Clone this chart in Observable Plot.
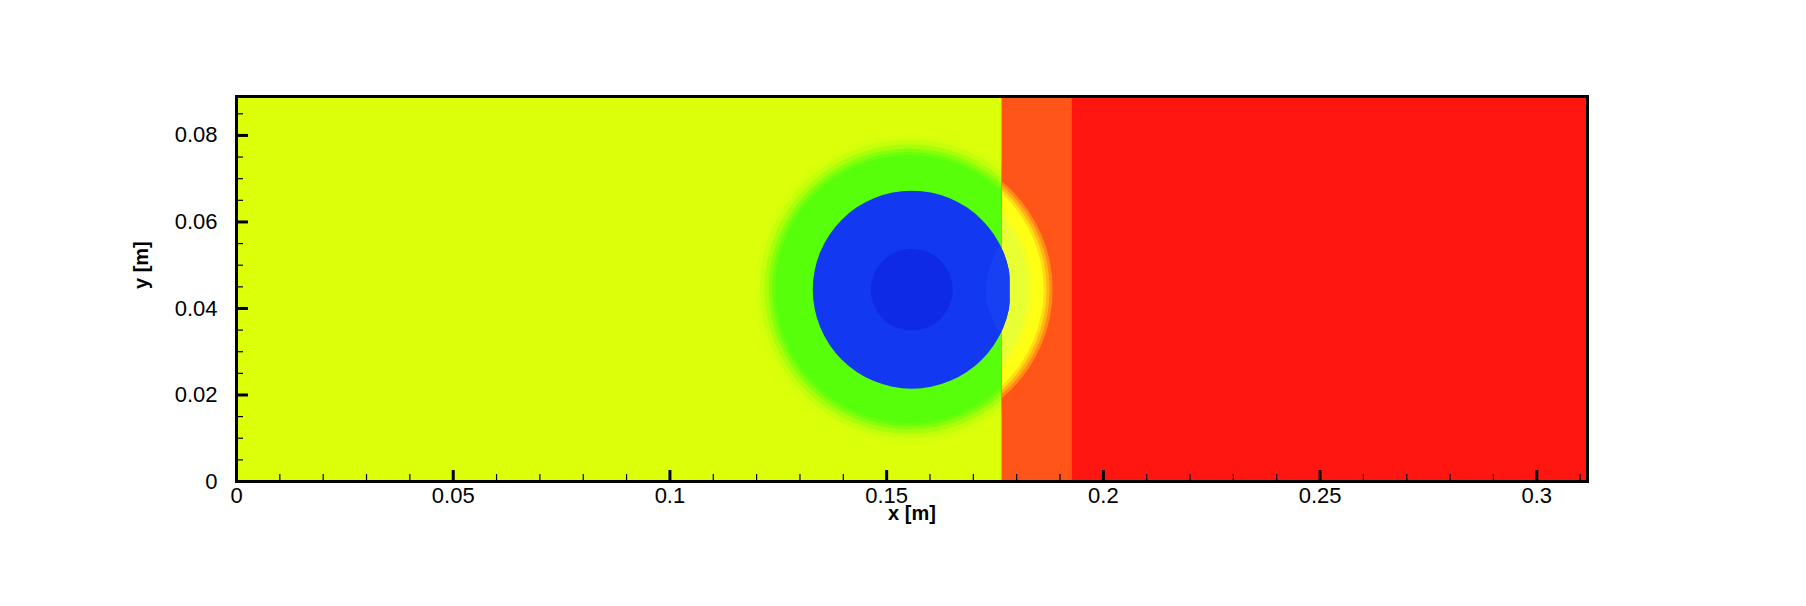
<!DOCTYPE html>
<html><head><meta charset="utf-8">
<script src="https://cdn.jsdelivr.net/npm/d3@7"></script>
<script src="https://cdn.jsdelivr.net/npm/@observablehq/plot@0.6"></script>
<style>
body{margin:0;background:#fff;}
svg{display:block;}
</style></head><body><div id="chart"></div>
<script>
// ---- axes ----
const xDomain = [0, 0.3117];
const yDomain = [0, 0.089];
const xTickMajor = [0, 0.05, 0.1, 0.15, 0.2, 0.25, 0.3];
const xTickLabels = ["0", "0.05", "0.1", "0.15", "0.2", "0.25", "0.3"];
const xTickMinor = [0.01, 0.02, 0.03, 0.04, 0.06, 0.07, 0.08, 0.09, 0.11, 0.12, 0.13, 0.14,
  0.16, 0.17, 0.18, 0.19, 0.21, 0.22, 0.23, 0.24, 0.26, 0.27, 0.28, 0.29, 0.31];
const yTickMajor = [0, 0.02, 0.04, 0.06, 0.08];
const yTickLabels = ["0", "0.02", "0.04", "0.06", "0.08"];
const yTickMinor = [0.005, 0.01, 0.015, 0.025, 0.03, 0.035, 0.045, 0.05, 0.055, 0.065, 0.07, 0.075, 0.085];
const xLabel = "x [m]";
const yLabel = "y [m]";

// ---- field regions ----
// vertical bands: pre-shock gas, shocked gas, driver gas
const bandX1 = [0, 0.1766, 0.1927];
const bandX2 = [0.1766, 0.1927, 0.3117];
const bandColor = ["#dcff0a", "#ff5519", "#ff1610"];
// green halo around the bubble (outer -> inner)
const haloCx = 0.1552, haloCy = 0.0445;
const haloR = [0.0356, 0.0345, 0.0334, 0.0324, 0.0316, 0.0309];
const haloColor = ["#d5ff0b", "#c6ff0a", "#a8ff0a", "#86ff0a", "#6aff0a", "#58ff0a"];
// transmitted-wave crescent right of the shock (outer -> inner)
const bubbleCx = 0.1558, bubbleCy = 0.04435;
const crescentR = [0.0325, 0.0318, 0.0311, 0.0304, 0.0280, 0.0268];
const crescentColor = ["#ff8a16", "#ffb416", "#ffdc14", "#ffff14", "#f6ff20", "#e8ff34"];
// helium bubble (slightly flattened where it meets the shock) and its core
const bubbleR = [0.02284, 0.00946];
const bubbleColor = ["#1238f2", "#0f2ae6"];
const bubbleRightX = 0.1784;
// slightly lighter lens inside the bubble, right side
const lensCx = 0.1900, lensCy = 0.04435, lensR = 0.0171;
const lensColor = "#1640f2";

const width = 1806, height = 606;
const marginLeft = 236, marginRight = 219, marginTop = 96, marginBottom = 125;
const plotW = width - marginLeft - marginRight;

const bands = bandX1.map((x1, i) => ({x1, x2: bandX2[i], y1: yDomain[0], y2: yDomain[1], fill: bandColor[i]}));
const halo = haloR.map((r, i) => ({x: haloCx, y: haloCy, r, fill: haloColor[i]}));
const crescent = crescentR.map((r, i) => ({x: bubbleCx, y: bubbleCy, r, fill: crescentColor[i]}));
const bubble = bubbleR.map((r, i) => ({x: bubbleCx, y: bubbleCy, r, fill: bubbleColor[i]}));
const lens = [{x: lensCx, y: lensCy, r: lensR, fill: lensColor}];

const font = "Liberation Sans, Arial, Helvetica, sans-serif";

const chart = Plot.plot({
  width, height, marginLeft, marginRight, marginTop, marginBottom,
  style: {fontFamily: font, background: "#fff", color: "#000"},
  x: {domain: xDomain, axis: null},
  y: {domain: yDomain, axis: null},
  r: {type: "linear", domain: [0, xDomain[1]], range: [0, plotW]},
  color: {type: "identity"},
  marks: [
    Plot.rect(bands.slice(0, 1), {x1: "x1", x2: "x2", y1: "y1", y2: "y2", fill: "fill"}),
    Plot.dot(halo, {x: "x", y: "y", r: "r", fill: "fill", stroke: null}),
    Plot.rect(bands.slice(1), {x1: "x1", x2: "x2", y1: "y1", y2: "y2", fill: "fill"}),
    Plot.dot(crescent, {x: "x", y: "y", r: "r", fill: "fill", stroke: null}),
    Plot.dot(bubble.slice(0, 1), {x: "x", y: "y", r: "r", fill: "fill", stroke: null}),
    Plot.dot(lens, {x: "x", y: "y", r: "r", fill: "fill", stroke: null}),
    Plot.dot(bubble.slice(1), {x: "x", y: "y", r: "r", fill: "fill", stroke: null}),
    Plot.frame({stroke: "#000", strokeWidth: 3}),
    Plot.axisX(xTickMajor, {anchor: "bottom", tickSize: -11, strokeWidth: 3, fill: "none", label: null}),
    Plot.axisX(xTickMinor, {anchor: "bottom", tickSize: -7, strokeWidth: 1.2, fill: "none", label: null}),
    Plot.axisX(xTickMajor, {anchor: "bottom", tickSize: 0, tickPadding: 6, fontSize: 22,
      tickFormat: d => xTickLabels[xTickMajor.indexOf(d)], label: null}),
    Plot.axisY(yTickMajor, {anchor: "left", tickSize: -12, strokeWidth: 3, fill: "none", label: null}),
    Plot.axisY(yTickMinor, {anchor: "left", tickSize: -7, strokeWidth: 1.2, fill: "none", label: null}),
    Plot.axisY(yTickMajor, {anchor: "left", tickSize: 0, tickPadding: 19, fontSize: 22,
      tickFormat: d => yTickLabels[yTickMajor.indexOf(d)], label: null}),
    Plot.text([xLabel], {text: d => d, frameAnchor: "bottom", dy: 38, fontSize: 20, fontWeight: "bold"}),
    Plot.text([yLabel], {text: d => d, frameAnchor: "left", dx: -95, rotate: -90, fontSize: 20, fontWeight: "bold"})
  ]
});

// clip paths built from the chart's own scales
(function () {
  const ns = "http://www.w3.org/2000/svg";
  const sx = chart.scale("x"), sy = chart.scale("y"), sr = chart.scale("r");
  const yTop = sy.apply(yDomain[1]), yBot = sy.apply(yDomain[0]);
  const defs = document.createElementNS(ns, "defs");
  function rectClip(id, xa, xb) {
    const cp = document.createElementNS(ns, "clipPath");
    cp.setAttribute("id", id);
    const rc = document.createElementNS(ns, "rect");
    rc.setAttribute("x", xa); rc.setAttribute("y", yTop);
    rc.setAttribute("width", xb - xa); rc.setAttribute("height", yBot - yTop);
    cp.appendChild(rc); defs.appendChild(cp);
  }
  // crescent: only in shocked gas
  rectClip("crescent-clip", sx.apply(bandX1[1]), sx.apply(bandX2[1]));
  // bubble: flattened right side
  rectClip("bubble-clip", sx.apply(xDomain[0]), sx.apply(bubbleRightX));
  // lens: inside the bubble
  const cp = document.createElementNS(ns, "clipPath");
  cp.setAttribute("id", "lens-clip");
  const c = document.createElementNS(ns, "circle");
  c.setAttribute("cx", sx.apply(bubbleCx)); c.setAttribute("cy", sy.apply(bubbleCy));
  c.setAttribute("r", sr.apply(bubbleR[0]));
  cp.appendChild(c); defs.appendChild(cp);
  chart.insertBefore(defs, chart.firstChild);
  const g = chart.querySelectorAll('g[aria-label="dot"]');
  if (g[1]) g[1].setAttribute("clip-path", "url(#crescent-clip)");
  if (g[2]) g[2].setAttribute("clip-path", "url(#bubble-clip)");
  if (g[3]) {
    const wrap = document.createElementNS(ns, "g");
    wrap.setAttribute("clip-path", "url(#bubble-clip)");
    g[3].parentNode.insertBefore(wrap, g[3]);
    wrap.appendChild(g[3]);
    g[3].setAttribute("clip-path", "url(#lens-clip)");
  }
})();

document.getElementById("chart").appendChild(chart);
</script>
</body></html>
